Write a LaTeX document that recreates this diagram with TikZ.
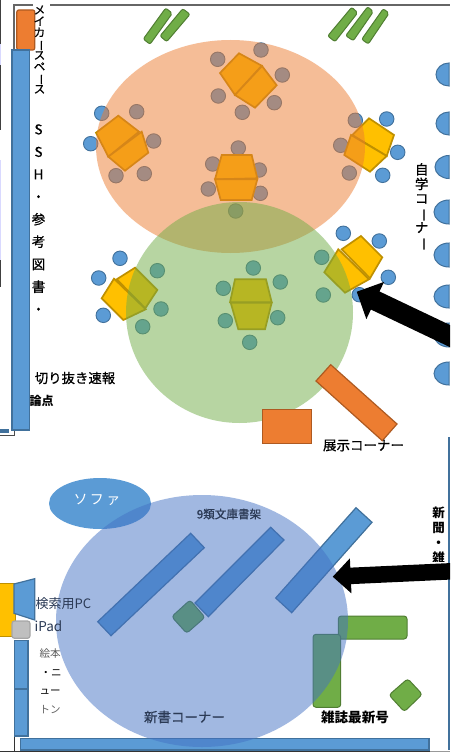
\documentclass[tikz,border=0pt]{standalone}
\usepackage{fontspec}
\setmainfont{Noto Sans CJK JP}
\newfontfamily\med[FakeBold=0.7]{Noto Sans CJK JP}
\usetikzlibrary{arrows.meta}
\definecolor{cBlue}{HTML}{5B9BD5}
\definecolor{cBlueD}{HTML}{41719C}
\definecolor{cOr}{HTML}{ED7D31}
\definecolor{cOrD}{HTML}{AE5A21}
\definecolor{cGr}{HTML}{70AD47}
\definecolor{cGrD}{HTML}{507E32}
\definecolor{cYe}{HTML}{FFC000}
\definecolor{cYeD}{HTML}{BF9000}
\definecolor{cZone}{HTML}{4472C4}
\definecolor{cTxt}{HTML}{2B3A55}
\newcommand{\vbar}{\rotatebox[origin=c]{-90}{ー}}
\newcommand{\sz}[2]{\fontsize{#1}{#2}\selectfont\lineskip=0pt\lineskiplimit=-100pt}
\tikzset{
  tabletop/.style={fill=cYe,draw=cYeD,line width=1.7pt,line join=miter},
  seat/.style={circle,fill=cBlue,draw=cBlueD,line width=0.9pt,minimum size=14.5pt,inner sep=0pt},
  shelf/.style={fill=cBlue,draw=cBlueD,line width=1.2pt},
  rack/.style={fill=cGr,draw=cGrD,line width=1pt,rounded corners=2pt},
  wall/.style={fill=cOr,draw=cOrD,line width=1.2pt},
  reader/.style={fill=cBlue,draw=cBlueD,line width=1pt},
  zone/.style={fill opacity=0.5,draw=none},
  lbl/.style={inner sep=0pt,text=black},
  fatarrow/.style={draw=black,line width=#1}
}
\begin{document}
\begin{tikzpicture}[x=1pt,y=-1pt]
\useasboundingbox (0,0) rectangle (450,752);
\clip (0,0) rectangle (450,752);
\fill[white] (0,0) rectangle (450,752);
% edge slivers
\fill[black!75] (0,0) rectangle (1,44);
\fill[blue!15] (0,44) rectangle (1,65);
\fill[black!75] (0,65) rectangle (1,130);
\fill[blue!15] (0,160) rectangle (1,260);
\fill[black!75] (0,260) rectangle (1,287);
% frame
\draw[black!60,line width=1.2pt] (33,5) -- (14,5) -- (14,50);
\draw[black!60,line width=1.2pt] (50,5) -- (450,5);
\draw[black!70,line width=.8pt] (14,430) -- (14,435) -- (0,435);
\fill[cBlueD] (0,429) rectangle (9,433);
\draw[cBlueD,line width=1.2pt] (449,437) -- (449,750);
\draw[black!80,line width=1pt] (14,688) -- (14,752);
\draw[black!80,line width=1.5pt] (0,751.5) -- (430,751.5);
\draw[black!40,line width=1.5pt] (430,751.5) -- (450,751.5);
% text behind the bar
\node[lbl,font=\sz{12}{13}\bfseries] (ronten) at (41.5,401) {論点};
% left shelf and maker box
\node[wall,rounded corners=2pt,minimum width=18pt,minimum height=40pt,inner sep=0pt] (maker) at (25.8,30) {};
\draw[shelf,line width=1.5pt] (12,50) rectangle (29.3,430);
% top green racks
\path[rack] (165.7,8)--(172.3,13.3)--(150,44.3)--(143.3,39)--cycle;
\path[rack] (182.7,8.7)--(190,14.3)--(166.7,41.7)--(160,36)--cycle;
\path[rack] (351.7,7.3)--(357.7,12.7)--(335,41.7)--(327.7,36)--cycle;
\path[rack] (367.7,6.7)--(373.3,11.7)--(353.3,40.7)--(345.7,35.7)--cycle;
\path[rack] (383.3,8.7)--(389,13.3)--(368.3,44)--(361.7,39.3)--cycle;
% readers on the right
\foreach \yc/\ry/\rx in {74.5/11.5/13,123.5/11.5/13,167/11.5/14,212/12/15,255/12/15,296.5/11.5/15,335/12/15,373.5/11.5/15}{
  \path[reader] (449,\yc-\ry) arc[start angle=90,end angle=270,x radius=\rx,y radius=-\ry] -- cycle;
}
% seats
\foreach \x/\y in {101.7/113.3,90.7/143.7,136.7/111.7,153.7/141,116/175.7,144.3/173.7,
  217.7/59.3,218.3/96,261/50,282.3/75,274.3/102.7,242.3/112.3,
  355.3/120.3,386.7/119,397.7/152.3,382.7/175.3,349.3/173,340.7/145.3,
  238.3/148,212.7/164,259.3/170,208.3/189,260.3/193.3,235.7/211,
  253.3/268,280.3/282,223.3/288.3,225.3/320.7,277.7/317.7,249.7/342.3,
  120/258.3,98.7/278,157.3/270.7,161/309,142.7/326.7,103.3/315.3,
  343.3/233.3,379.3/241,321.7/257.3,323.3/295,388.3/277.3,359.3/294.7}{
  \node[seat] at (\x,\y) {};
}
% tables
\path[tabletop] (96,132.7)--(118.3,115.7)--(139,131.7)--(108.3,156.7)--cycle;
\path[tabletop] (108.3,156.7)--(141.7,131.7)--(148.3,152.7)--(125,170.7)--cycle;
\path[tabletop] (220,73)--(239,53.3)--(261.7,65.7)--(235,95)--cycle;
\path[tabletop] (235,95)--(262,66)--(276.7,85.3)--(255,107.7)--cycle;
\path[tabletop] (369,118.3)--(394,135)--(386.7,156)--(352.3,135)--cycle;
\path[tabletop] (351,135)--(386.7,156)--(370,171.7)--(344.3,155)--cycle;
\path[tabletop] (221.7,155)--(251.7,155)--(257.3,178.3)--(215,179.3)--cycle;
\path[tabletop] (215,179.3)--(257.3,179.3)--(251.7,200)--(220.7,200)--cycle;
\path[tabletop] (235,279.3)--(266,279.3)--(271.7,302.3)--(230,302.3)--cycle;
\path[tabletop] (230.7,302.7)--(271.7,302.7)--(265,329.3)--(238.3,329.3)--cycle;
\path[tabletop] (135,267.7)--(157.3,290)--(145.3,308.3)--(116.7,279.3)--cycle;
\path[tabletop] (114,278.7)--(145.7,309.3)--(123.3,320)--(101.7,298.3)--cycle;
\path[tabletop] (361,236)--(382.3,257.3)--(370,278.3)--(341.7,249.3)--cycle;
\path[tabletop] (338.3,249.3)--(369,279.3)--(345,292.7)--(324.3,272.3)--cycle;
% zones
\fill[cOr,zone] (230.5,146.5) ellipse[x radius=134.5,y radius=106.5];
\fill[cGr,zone] (239.5,312.5) ellipse[x radius=113.5,y radius=110.5];
% exhibition corner
\path[wall] (262.7,409.3) rectangle (311.7,443.3);
\path[wall] (330.7,364.7)--(397,424)--(382.3,440.7)--(316,381)--cycle;
% lower section
\fill[cBlue] (100,503.5) ellipse[x radius=51,y radius=25.5];
\path[shelf] (190.7,533.3)--(204.3,547.7)--(111,635.7)--(97.7,621.7)--cycle;
\path[shelf] (270.7,527.3)--(284,540)--(208.3,616.7)--(195,603)--cycle;
\path[shelf] (356,507.7)--(372,522.3)--(291.7,612.7)--(275.7,598)--cycle;
\path[rack,rounded corners=3pt] (190,600)--(205,617.3)--(186.7,633.3)--(171.7,616.7)--cycle;
\path[rack,rounded corners=3pt] (338.3,616) rectangle (407,639);
\path[rack,rounded corners=3pt] (313,634.3) rectangle (340.7,707.3);
\path[rack,rounded corners=3pt] (407.7,678.7)--(422.3,694.3)--(404.3,711.7)--(389,695)--cycle;
\path[shelf] (20.7,738.3) rectangle (429,750);
\fill[cZone,zone] (202,621) ellipse[x radius=146,y radius=126];
% left lower equipment
\path[fill=cYe,draw=cYeD,line width=1pt] (-3,583.7) rectangle (15.3,636);
\path[shelf] (14,584)--(34.7,578.7)--(34.7,620)--(14,613.3)--cycle;
\path[shelf] (14.3,640.7) rectangle (28,688.3);
\path[shelf] (14.3,689.3) rectangle (28,736);
\path[fill=black!25,draw=black!35,line width=1.2pt,rounded corners=2.5pt] (12,621) rectangle (30,638.3);
% arrows
\coordinate (a1s) at (475,348);
\coordinate (a1e) at (356.7,291.7);
\coordinate (a2s) at (475,570.2);
\coordinate (a2e) at (332.7,576.7);
\draw[fatarrow=20pt,-{Triangle[length=20.5pt,width=40pt]}] (a1s) -- (a1e);
\draw[fatarrow=16.5pt,-{Triangle[length=18pt,width=34pt]}] (a2s) -- (a2e);
% labels
\node[lbl,align=center,font=\med\sz{11.5}{11.3}] (tMaker) at (39.5,49.5) {メ\\イ\\カ\\\vbar\\ス\\ペ\\\vbar\\ス};
\node[lbl,align=center,font=\med\sz{13.5}{22.5}] (tSsh) at (38.5,219.3) {S\\S\\H\\・\\参\\考\\図\\書\\・};
\node[lbl,font=\med\sz{13.4}{15}] (tKiri) at (75,378) {切り抜き速報};
\node[lbl,align=center,font=\med\sz{13.5}{14.5}] (tJigaku) at (421.7,207) {自\\学\\コ\\\vbar\\ナ\\\vbar};
\node[lbl,font=\med\sz{13.5}{15}] (tTenji) at (363.5,445.5) {展示コーナー};
\node[lbl,text=white,font=\sz{14}{16}] (tSofa) at (97,500) {ソ\,フ\,ァ};
\node[lbl,text=cTxt,font=\med\sz{11.6}{12}] (tBunko) at (229,514) {9類文庫書架};
\node[lbl,text=cTxt,font=\sz{13}{14}] (tPc) at (63.5,604) {検索用PC};
\node[lbl,text=cTxt,font=\sz{13.5}{14}] (tIpad) at (48.5,626) {iPad};
\node[lbl,text=black!65,font=\sz{10.5}{12}] (tEhon) at (50,654) {絵本};
\node[lbl,text=black,font=\sz{10.5}{12}] (tNi) at (51,673) {・ニ};
\node[lbl,text=black,font=\sz{10.5}{12}] (tNyu) at (50,692) {ュー};
\node[lbl,text=black!60,font=\sz{10.5}{12}] (tTon) at (50,710) {トン};
\node[lbl,text=cTxt,font=\med\sz{13.5}{15}] (tShinsho) at (184.5,717) {新書コーナー};
\node[lbl,font=\sz{13.6}{15}\bfseries] (tZasshi) at (355,717) {雑誌最新号};
\begin{scope}
\clip (420,500) rectangle (450,561);
\node[lbl,align=center,font=\sz{12.5}{15}\bfseries] (tShinbun) at (438.7,535.5) {新\\聞\\・\\雑};
\end{scope}
\end{tikzpicture}
\end{document}
